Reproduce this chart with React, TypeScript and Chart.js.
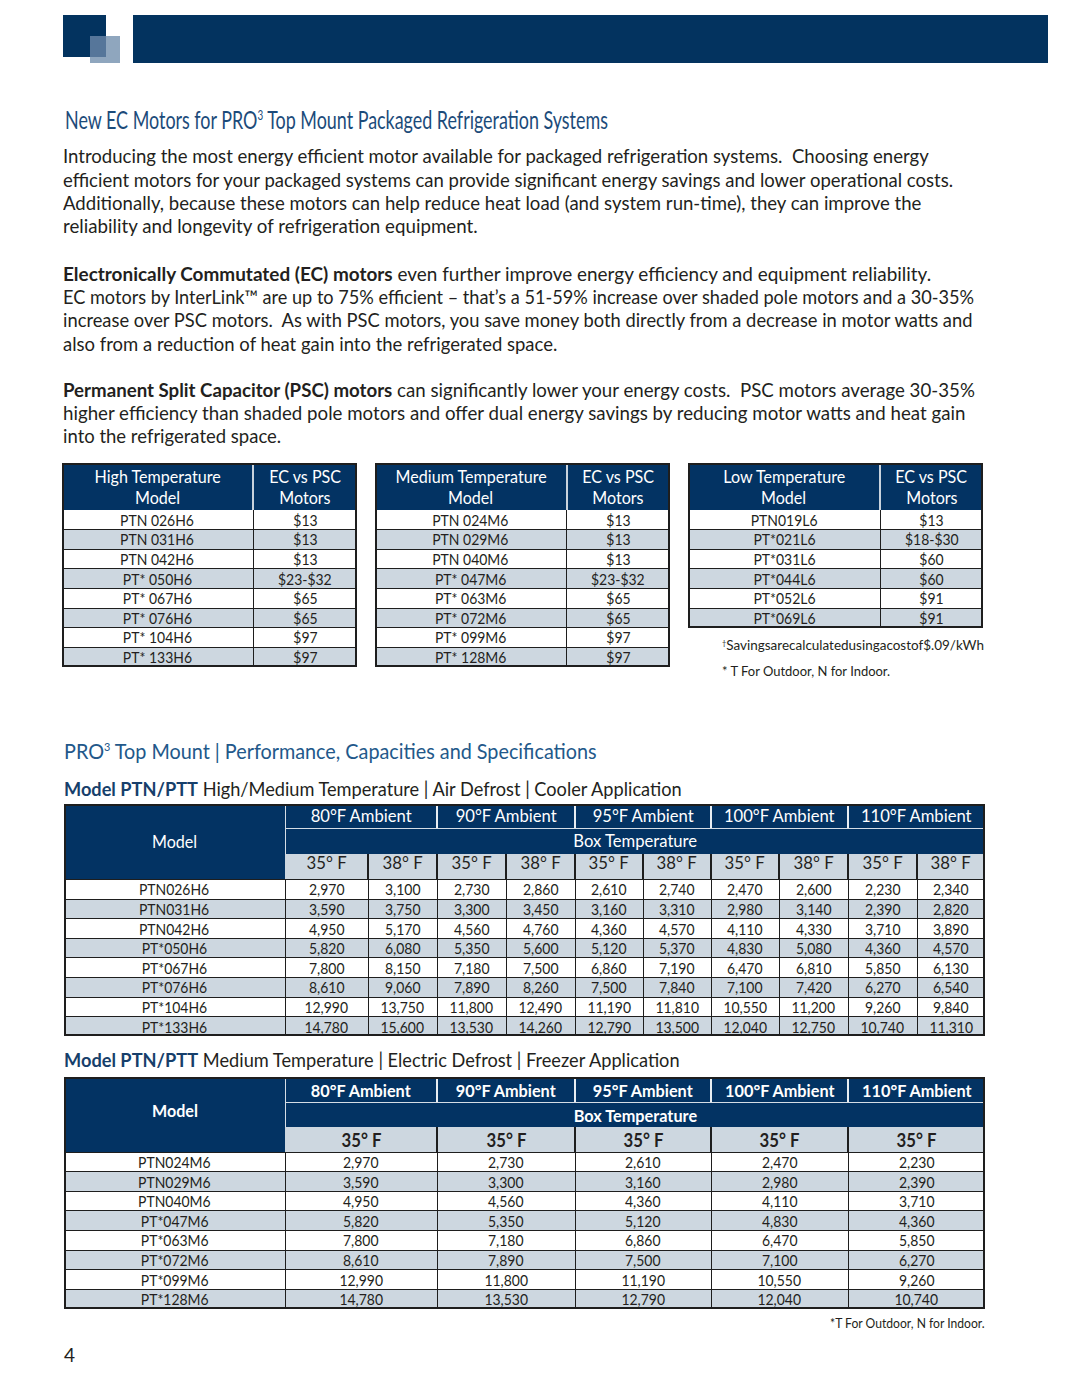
import React, { useEffect, useLayoutEffect, useRef } from 'react';
import { Chart, registerables } from 'chart.js';

Chart.register(...registerables);

// ---------- DATA ----------
const bannerBlocks = ['darkSquare', 'lightSquare', 'overlap', 'banner'];
const blockX0 = [63, 90, 90, 133];
const blockX1 = [106, 120, 106, 1048];
const blockY0 = [15, 36, 36, 15];
const blockY1 = [57, 63, 57, 63];
const blockColors = ['#03335f', '#8fa6be', '#56769a', '#03335f'];

const highTempModels = ['PTN 026H6', 'PTN 031H6', 'PTN 042H6', 'PT* 050H6', 'PT* 067H6', 'PT* 076H6', 'PT* 104H6', 'PT* 133H6'];
const highTempSavings = ['$13', '$13', '$13', '$23-$32', '$65', '$65', '$97', '$97'];
const medTempModels = ['PTN 024M6', 'PTN 029M6', 'PTN 040M6', 'PT* 047M6', 'PT* 063M6', 'PT* 072M6', 'PT* 099M6', 'PT* 128M6'];
const medTempSavings = ['$13', '$13', '$13', '$23-$32', '$65', '$65', '$97', '$97'];
const lowTempModels = ['PTN019L6', 'PT*021L6', 'PT*031L6', 'PT*044L6', 'PT*052L6', 'PT*069L6'];
const lowTempSavings = ['$13', '$18-$30', '$60', '$60', '$91', '$91'];

const ambientLabels = ['80°F Ambient', '90°F Ambient', '95°F Ambient', '100°F Ambient', '110°F Ambient'];
const boxTempLabels = ['35° F', '38° F'];

const coolerModels = ['PTN026H6', 'PTN031H6', 'PTN042H6', 'PT*050H6', 'PT*067H6', 'PT*076H6', 'PT*104H6', 'PT*133H6'];
const cooler80_35 = [2970, 3590, 4950, 5820, 7800, 8610, 12990, 14780];
const cooler80_38 = [3100, 3750, 5170, 6080, 8150, 9060, 13750, 15600];
const cooler90_35 = [2730, 3300, 4560, 5350, 7180, 7890, 11800, 13530];
const cooler90_38 = [2860, 3450, 4760, 5600, 7500, 8260, 12490, 14260];
const cooler95_35 = [2610, 3160, 4360, 5120, 6860, 7500, 11190, 12790];
const cooler95_38 = [2740, 3310, 4570, 5370, 7190, 7840, 11810, 13500];
const cooler100_35 = [2470, 2980, 4110, 4830, 6470, 7100, 10550, 12040];
const cooler100_38 = [2600, 3140, 4330, 5080, 6810, 7420, 11200, 12750];
const cooler110_35 = [2230, 2390, 3710, 4360, 5850, 6270, 9260, 10740];
const cooler110_38 = [2340, 2820, 3890, 4570, 6130, 6540, 9840, 11310];

const freezerModels = ['PTN024M6', 'PTN029M6', 'PTN040M6', 'PT*047M6', 'PT*063M6', 'PT*072M6', 'PT*099M6', 'PT*128M6'];
const freezer80 = [2970, 3590, 4950, 5820, 7800, 8610, 12990, 14780];
const freezer90 = [2730, 3300, 4560, 5350, 7180, 7890, 11800, 13530];
const freezer95 = [2610, 3160, 4360, 5120, 6860, 7500, 11190, 12790];
const freezer100 = [2470, 2980, 4110, 4830, 6470, 7100, 10550, 12040];
const freezer110 = [2230, 2390, 3710, 4360, 5850, 6270, 9260, 10740];

const para1 = [
  'Introducing the most energy efficient motor available for packaged refrigeration systems.  Choosing energy',
  'efficient motors for your packaged systems can provide significant energy savings and lower operational costs.',
  'Additionally, because these motors can help reduce heat load (and system run-time), they can improve the',
  'reliability and longevity of refrigeration equipment.',
];
const para2Bold = 'Electronically Commutated (EC) motors';
const para2 = [
  ' even further improve energy efficiency and equipment reliability.',
  'EC motors by InterLink™ are up to 75% efficient – that’s a 51-59% increase over shaded pole motors and a 30-35%',
  'increase over PSC motors.  As with PSC motors, you save money both directly from a decrease in motor watts and',
  'also from a reduction of heat gain into the refrigerated space.',
];
const para3Bold = 'Permanent Split Capacitor (PSC) motors';
const para3 = [
  ' can significantly lower your energy costs.  PSC motors average 30-35%',
  'higher efficiency than shaded pole motors and offer dual energy savings by reducing motor watts and heat gain',
  'into the refrigerated space.',
];

// ---------- STYLE ----------
const FONT = 'Lato, "Open Sans", sans-serif';
const NAVY = '#033363';
const LIGHT = '#cdd7e0';
const INK = '#231f20';
const LINE = '#1e1e1e';
const TITLE_BLUE = '#1c4b7a';

const fmt = (v: number) => v.toLocaleString('en-US');

function Rect({ x0, y0, x1, y1, bg }: any) {
  return <div style={{ position: 'absolute', left: x0, top: y0, width: x1 - x0, height: y1 - y0, background: bg }} />;
}

function Frame({ x0, y0, x1, y1, w = 2, c = LINE }: any) {
  return (
    <div style={{ position: 'absolute', left: x0, top: y0, width: x1 - x0, height: y1 - y0, border: `${w}px solid ${c}`, boxSizing: 'border-box' }} />
  );
}

function Txt({ x, base, fs, w, align = 'left', color = INK, bold = false, sx = 1, children }: any) {
  const ref = useRef<HTMLSpanElement>(null);
  useLayoutEffect(() => {
    const el = ref.current;
    if (!el) return;
    let s = sx;
    if (w) {
      const nat = el.offsetWidth;
      if (nat > 0) s = w / nat;
    }
    el.style.transform = `scaleX(${s})`;
  }, [w, sx]);
  const BOX = 1400;
  let left = x;
  let width: any = undefined;
  if (align === 'center') { left = x - BOX / 2; width = BOX; }
  if (align === 'right') { left = x - BOX; width = BOX; }
  return (
    <div
      style={{
        position: 'absolute', left, width, top: base - 0.987 * fs, fontSize: fs,
        lineHeight: `${1.2 * fs}px`, fontFamily: FONT, fontWeight: bold ? 700 : 400,
        color, whiteSpace: 'pre', textAlign: align,
      }}
    >
      <span
        ref={ref}
        style={{
          display: 'inline-block',
          transformOrigin: align === 'center' ? '50% 50%' : align === 'right' ? '100% 50%' : '0 50%',
        }}
      >
        {children}
      </span>
    </div>
  );
}

const Sup = ({ children }: any) => (
  <span style={{ fontSize: '0.55em', verticalAlign: '0.65em', lineHeight: 0 }}>{children}</span>
);

// ---------- Banner drawn with Chart.js ----------
const blocksPlugin = {
  id: 'blocks',
  beforeDatasetsDraw(chart: any) {
    const { ctx, scales } = chart;
    const xs = scales.x;
    const ys = scales.y;
    ctx.save();
    bannerBlocks.forEach((_, i) => {
      const px0 = xs.getPixelForValue(blockX0[i]);
      const px1 = xs.getPixelForValue(blockX1[i]);
      const py0 = ys.getPixelForValue(blockY0[i]);
      const py1 = ys.getPixelForValue(blockY1[i]);
      ctx.fillStyle = blockColors[i];
      ctx.fillRect(px0, Math.min(py0, py1), px1 - px0, Math.abs(py1 - py0));
    });
    ctx.restore();
  },
};

function Banner() {
  const ref = useRef<HTMLCanvasElement>(null);
  useEffect(() => {
    const chart = new Chart(ref.current as HTMLCanvasElement, {
      type: 'scatter',
      data: { datasets: [{ data: [], pointRadius: 0 }] },
      options: {
        responsive: false,
        animation: false,
        layout: { padding: 0 },
        plugins: { legend: { display: false }, tooltip: { enabled: false } },
        scales: {
          x: { type: 'linear', min: 0, max: 1080, display: false },
          y: { type: 'linear', min: 0, max: 70, reverse: true, display: false },
        },
      },
      plugins: [blocksPlugin],
    } as any);
    return () => chart.destroy();
  }, []);
  return <canvas ref={ref} width={1080} height={70} style={{ position: 'absolute', left: 0, top: 0, width: 1080, height: 70 }} />;
}

// ---------- Small savings table ----------
function SmallTable({ left, right, divider, title, models, vals }: any) {
  const top = 463;
  const headBot = 510;
  const rowH = 19.6;
  const bottom = headBot + models.length * rowH;
  const els: any[] = [];
  els.push(<Rect key="h" x0={left} y0={top} x1={right} y1={headBot} bg={NAVY} />);
  els.push(<Rect key="hd" x0={divider - 1} y0={top} x1={divider + 1} y1={headBot} bg="#c9d3dd" />);
  models.forEach((m: string, i: number) => {
    const y0 = headBot + i * rowH;
    els.push(<Rect key={'r' + i} x0={left} y0={y0} x1={right} y1={y0 + rowH} bg={i % 2 ? LIGHT : '#ffffff'} />);
    if (i > 0) els.push(<Rect key={'l' + i} x0={left} y0={y0 - 0.5} x1={right} y1={y0 + 0.5} bg={LINE} />);
    els.push(<Txt key={'m' + i} x={(left + divider) / 2} base={y0 + 16} fs={15.5} sx={0.9} align="center">{m}</Txt>);
    els.push(<Txt key={'v' + i} x={(divider + right) / 2} base={y0 + 16} fs={15.5} sx={0.9} align="center">{vals[i]}</Txt>);
  });
  els.push(<Rect key="vd" x0={divider - 0.5} y0={headBot} x1={divider + 0.5} y1={bottom} bg={LINE} />);
  els.push(<Txt key="t1" x={(left + divider) / 2} base={483} fs={17.5} sx={0.92} align="center" color="#fff">{title}</Txt>);
  els.push(<Txt key="t2" x={(left + divider) / 2} base={504.5} fs={17.5} sx={0.92} align="center" color="#fff">Model</Txt>);
  els.push(<Txt key="t3" x={(divider + right) / 2} base={483} fs={17.5} sx={0.92} align="center" color="#fff">EC vs PSC</Txt>);
  els.push(<Txt key="t4" x={(divider + right) / 2} base={504.5} fs={17.5} sx={0.92} align="center" color="#fff">Motors</Txt>);
  els.push(<Frame key="f" x0={left} y0={top} x1={right} y1={bottom} />);
  return <>{els}</>;
}

// ---------- Big performance table ----------
function BigTable({ top, aBot, bBot, cBot, subBounds, groupBounds, subLabels, models, cols, bold, base }: any) {
  const L = 64, R = 985, M = 285;
  const rowH = 19.6;
  const bottom = cBot + models.length * rowH;
  const els: any[] = [];
  els.push(<Rect key="nv" x0={L} y0={top} x1={R} y1={bBot} bg={NAVY} />);
  els.push(<Rect key="nm" x0={L} y0={top} x1={M} y1={cBot} bg={NAVY} />);
  els.push(<Rect key="lc" x0={M} y0={bBot} x1={R} y1={cBot} bg={LIGHT} />);
  els.push(<Rect key="ab" x0={M} y0={aBot - 0.5} x1={R} y1={aBot + 0.5} bg="#d5dde5" />);
  els.push(<Rect key="ms" x0={M - 0.5} y0={top} x1={M + 0.5} y1={bBot} bg="#d5dde5" />);
  groupBounds.slice(1, -1).forEach((gx: number, i: number) => {
    els.push(<Rect key={'gs' + i} x0={gx - 1} y0={top} x1={gx + 1} y1={aBot} bg="#e8edf2" />);
  });
  subBounds.slice(1, -1).forEach((sx: number, i: number) => {
    els.push(<Rect key={'cs' + i} x0={sx - 1} y0={bBot} x1={sx + 1} y1={cBot} bg={LINE} />);
  });
  models.forEach((m: string, i: number) => {
    const y0 = cBot + i * rowH;
    els.push(<Rect key={'r' + i} x0={L} y0={y0} x1={R} y1={y0 + rowH} bg={i % 2 ? LIGHT : '#ffffff'} />);
    els.push(<Rect key={'hl' + i} x0={L} y0={y0 - 0.5} x1={R} y1={y0 + 0.5} bg={LINE} />);
  });
  subBounds.slice(0, -1).forEach((sx: number, i: number) => {
    els.push(<Rect key={'dv' + i} x0={sx - 0.5} y0={cBot} x1={sx + 0.5} y1={bottom} bg={LINE} />);
  });
  // header texts
  els.push(<Txt key="mod" x={(L + M) / 2} base={base.model} fs={17.5} sx={0.92} bold={bold} align="center" color="#fff">Model</Txt>);
  ambientLabels.forEach((a: string, i: number) => {
    els.push(
      <Txt key={'a' + i} x={(groupBounds[i] + groupBounds[i + 1]) / 2} base={base.amb} fs={17.5} sx={bold ? 0.93 : 0.95} bold={bold} align="center" color="#fff">{a}</Txt>
    );
  });
  els.push(<Txt key="box" x={(M + R) / 2} base={base.box} fs={17.5} sx={bold ? 0.93 : 0.95} bold={bold} align="center" color="#fff">Box Temperature</Txt>);
  subLabels.forEach((s: string, i: number) => {
    els.push(
      <Txt key={'s' + i} x={(subBounds[i] + subBounds[i + 1]) / 2} base={base.sub} fs={18} sx={0.93} bold={bold} align="center">{s}</Txt>
    );
  });
  models.forEach((m: string, i: number) => {
    const y0 = cBot + i * rowH;
    els.push(<Txt key={'mm' + i} x={(L + M) / 2} base={y0 + 16.2} fs={15.5} sx={0.9} align="center">{m}</Txt>);
    cols.forEach((col: number[], j: number) => {
      els.push(
        <Txt key={'c' + i + '_' + j} x={(subBounds[j] + subBounds[j + 1]) / 2} base={y0 + 16.2} fs={15.5} sx={0.9} align="center">{fmt(col[i])}</Txt>
      );
    });
  });
  els.push(<Frame key="fr" x0={L} y0={top} x1={R} y1={bottom} />);
  return <>{els}</>;
}

export default function App() {
  const para1Base = [164, 187.3, 210.6, 233.9];
  const para1W = [866, 890, 858, 415];
  const para2Base = [281.5, 304.8, 328.1, 351.4];
  const para2W = [868, 911, 909, 494];
  const para3Base = [397.5, 420.8, 444.1];
  const para3W = [912, 902, 218];
  const pfs = 19;

  const coolerSub = [285, 368, 437, 506, 575, 643, 711, 779, 848, 917, 985];
  const groups = [285, 437, 575, 711, 848, 985];
  const coolerSubLabels: string[] = [];
  ambientLabels.forEach(() => boxTempLabels.forEach((b) => coolerSubLabels.push(b)));

  return (
    <div style={{ position: 'absolute', left: 0, top: 0, width: 1080, height: 1397, background: '#fff', overflow: 'hidden', fontFamily: FONT }}>
      <Banner />

      <Txt x={65} base={129} fs={25} w={543} color={TITLE_BLUE}>
        New EC Motors for PRO<Sup>3</Sup> Top Mount Packaged Refrigeration Systems
      </Txt>

      {para1.map((l, i) => (
        <Txt key={'p1' + i} x={63} base={para1Base[i]} fs={pfs} w={para1W[i]}>{l}</Txt>
      ))}
      {para2.map((l, i) => (
        <Txt key={'p2' + i} x={63} base={para2Base[i]} fs={pfs} w={para2W[i]}>
          {i === 0 ? <span style={{ fontWeight: 700 }}>{para2Bold}</span> : null}
          {l}
        </Txt>
      ))}
      {para3.map((l, i) => (
        <Txt key={'p3' + i} x={63} base={para3Base[i]} fs={pfs} w={para3W[i]}>
          {i === 0 ? <span style={{ fontWeight: 700 }}>{para3Bold}</span> : null}
          {l}
        </Txt>
      ))}

      <SmallTable left={62} right={357} divider={253} title="High Temperature" models={highTempModels} vals={highTempSavings} />
      <SmallTable left={375} right={670} divider={566.5} title="Medium Temperature" models={medTempModels} vals={medTempSavings} />
      <SmallTable left={688} right={983} divider={880} title="Low Temperature" models={lowTempModels} vals={lowTempSavings} />

      <Txt x={722} base={650} fs={12.5} w={262}>
        <Sup>†</Sup>Savingsarecalculatedusingacostof$.09/kWh
      </Txt>
      <Txt x={722} base={676.5} fs={12.5} w={168}>* T For Outdoor, N for Indoor.</Txt>

      <Txt x={64} base={760} fs={21.5} w={533} color="#22588a">
        PRO<Sup>3</Sup> Top Mount | Performance, Capacities and Specifications
      </Txt>

      <Txt x={64} base={797} fs={19} w={618}>
        <span style={{ fontWeight: 700, color: '#173f6b' }}>Model PTN/PTT</span> High/Medium Temperature | Air Defrost | Cooler Application
      </Txt>

      <BigTable
        top={804}
        aBot={828}
        bBot={853.5}
        cBot={879.5}
        subBounds={coolerSub}
        groupBounds={groups}
        subLabels={coolerSubLabels}
        models={coolerModels}
        cols={[cooler80_35, cooler80_38, cooler90_35, cooler90_38, cooler95_35, cooler95_38, cooler100_35, cooler100_38, cooler110_35, cooler110_38]}
        bold={false}
        base={{ amb: 822, box: 847.5, model: 848.3, sub: 869.5 }}
      />

      <Txt x={64} base={1068} fs={19} w={616}>
        <span style={{ fontWeight: 700, color: '#173f6b' }}>Model PTN/PTT</span> Medium Temperature | Electric Defrost | Freezer Application
      </Txt>

      <BigTable
        top={1077}
        aBot={1102}
        bBot={1127}
        cBot={1152}
        subBounds={groups}
        groupBounds={groups}
        subLabels={ambientLabels.map(() => boxTempLabels[0])}
        models={freezerModels}
        cols={[freezer80, freezer90, freezer95, freezer100, freezer110]}
        bold={true}
        base={{ amb: 1097, box: 1122.5, model: 1117.5, sub: 1147.5 }}
      />

      <Txt x={985} base={1329} fs={13} w={155} align="right">*T For Outdoor, N for Indoor.</Txt>

      <Txt x={64} base={1363} fs={19}>4</Txt>
    </div>
  );
}
